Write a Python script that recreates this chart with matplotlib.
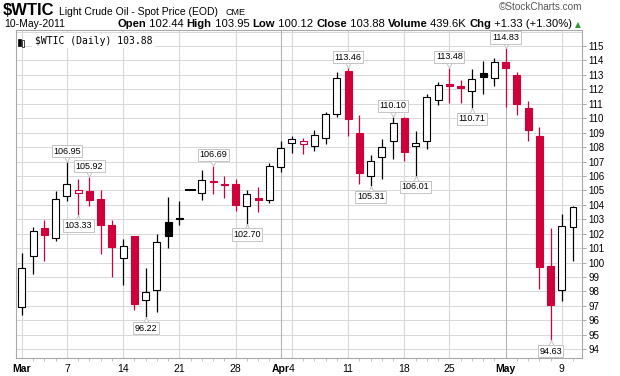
import matplotlib
matplotlib.use("Agg")
import matplotlib.pyplot as plt
from matplotlib.patches import Rectangle
from matplotlib.transforms import offset_copy

# daily OHLC, 1-Mar-2011 .. 10-May-2011
dates = ["Mar 1", "Mar 2", "Mar 3", "Mar 4", "Mar 7", "Mar 8", "Mar 9", "Mar 10", "Mar 11",
         "Mar 14", "Mar 15", "Mar 16", "Mar 17", "Mar 18", "Mar 21", "Mar 22", "Mar 23",
         "Mar 24", "Mar 25", "Mar 28", "Mar 29", "Mar 30", "Mar 31", "Apr 1", "Apr 4",
         "Apr 5", "Apr 6", "Apr 7", "Apr 8", "Apr 11", "Apr 12", "Apr 13", "Apr 14",
         "Apr 15", "Apr 18", "Apr 19", "Apr 20", "Apr 21", "Apr 25", "Apr 26", "Apr 27",
         "Apr 28", "Apr 29", "May 2", "May 3", "May 4", "May 5", "May 6", "May 9", "May 10"]

opens = [96.94, 100.47, 102.40, 101.69, 104.59, 104.82, 104.98, 104.43, 102.63, 100.33,
         101.87, 97.42, 98.12, 102.84, 103.12, 105.00, 104.85, 105.64, 105.46, 105.47,
         103.95, 104.46, 104.30, 106.62, 108.30, 108.24, 108.05, 108.60, 110.30, 113.27,
         108.96, 106.01, 107.30, 108.41, 110.02, 108.06, 108.41, 111.27, 112.35, 112.22,
         111.87, 113.11, 112.76, 113.89, 112.99, 110.71, 108.77, 99.77, 98.08, 102.44]

highs = [100.67, 102.47, 102.98, 104.98, 106.95, 105.79, 105.92, 105.05, 102.98, 101.60,
         101.87, 99.59, 101.99, 104.54, 104.29, 105.00, 106.39, 106.69, 105.98, 105.77,
         105.00, 105.22, 106.88, 108.44, 108.79, 108.60, 109.16, 110.42, 113.18, 113.46,
         110.21, 107.47, 108.57, 110.10, 110.09, 109.12, 111.68, 112.51, 113.48, 112.65,
         113.39, 113.99, 114.17, 114.83, 113.22, 111.22, 109.39, 102.40, 103.37, 103.95]

lows = [96.36, 99.20, 100.10, 101.48, 104.24, 103.33, 103.90, 100.56, 99.00, 98.44,
        96.71, 96.22, 96.57, 101.02, 102.59, 105.00, 104.34, 104.76, 104.48, 103.60,
        102.70, 103.47, 104.16, 106.28, 107.61, 107.52, 107.73, 108.24, 110.07, 108.80,
        105.44, 105.31, 105.78, 107.17, 107.07, 106.01, 107.90, 110.94, 111.04, 111.08,
        110.71, 111.66, 112.21, 110.80, 110.22, 108.42, 98.20, 94.63, 97.35, 100.12]

closes = [99.64, 102.19, 101.90, 104.41, 105.44, 105.03, 104.31, 102.63, 101.11, 101.15,
          97.12, 97.95, 101.43, 101.82, 103.00, 105.00, 105.75, 105.56, 105.40, 104.02,
          104.76, 104.30, 106.71, 107.96, 108.53, 108.40, 108.86, 110.29, 112.76, 109.93,
          106.20, 107.07, 108.04, 109.65, 107.63, 108.25, 111.45, 112.28, 112.25, 112.12,
          112.74, 112.83, 113.87, 113.50, 111.01, 109.21, 99.72, 97.07, 102.55, 103.88]

volume_txt = "439.6K"

# x-axis labels
tick_dates = ["Mar 1", "Mar 7", "Mar 14", "Mar 21", "Mar 28", "Apr 1", "Apr 4",
              "Apr 11", "Apr 18", "Apr 25", "May 2", "May 9"]
tick_labels = ["Mar", "7", "14", "21", "28", "Apr", "4", "11", "18", "25", "May", "9"]
month_dates = ["Apr 1", "May 2"]

# high/low call-outs
hi_marks = ["Mar 7", "Mar 9", "Mar 24", "Apr 11", "Apr 15", "Apr 25", "May 2"]
lo_marks = ["Mar 8", "Mar 16", "Mar 29", "Apr 13", "Apr 19", "Apr 27", "May 6"]

yticks = list(range(94, 116))

RED = "#D0003A"
GRID = "#D8D8D8"
W, H = 620, 376

plt.rcParams["font.family"] = ["Liberation Sans", "DejaVu Sans"]

fig = plt.figure(figsize=(W / 100, H / 100), dpi=100)
ax = fig.add_axes([16 / W, 1 - 358 / H, (582 - 16) / W, (358 - 30) / H])

idx = {d: i for i, d in enumerate(dates)}
bw = 0.62

for i in range(len(dates)):
    o, h, l, c = opens[i], highs[i], lows[i], closes[i]
    prev = closes[i - 1] if i > 0 else o
    col = "black" if c >= prev else RED
    face = "white" if c >= o else col
    ax.plot([i, i], [l, h], color=col, lw=0.9, zorder=2, solid_capstyle="butt")
    if h == l:
        ax.plot([i - 0.38, i + 0.38], [o, o], color=col, lw=1.4, zorder=3)
        continue
    ax.add_patch(Rectangle((i - bw / 2, min(o, c)), bw, abs(c - o),
                           facecolor=face, edgecolor=col, lw=0.8, zorder=3))

# grid
for y in yticks:
    ax.axhline(y, color=GRID, lw=0.7, zorder=0)
ax.axhline(116, color=GRID, lw=0.7, zorder=0)
for d in tick_dates:
    c = "#B4B4B4" if d in month_dates else GRID
    ax.axvline(idx[d], color=c, lw=0.8, zorder=0)

ax.set_xlim(-0.53, 49.8)
ax.set_ylim(93.39, 116.11)

ax.yaxis.tick_right()
ax.set_yticks(yticks)
ax.set_yticklabels([str(y) for y in yticks], fontsize=7)
ax.tick_params(axis="y", length=3, width=0.6, color="#999999", pad=1.5)
ax.set_xticks([idx[d] for d in tick_dates])
ax.set_xticklabels(tick_labels, fontsize=7.5)
for t in ax.get_xticklabels():
    if t.get_text() in ("Mar", "Apr", "May"):
        t.set_fontweight("bold")
ax.set_xticks(range(len(dates)), minor=True)
ax.tick_params(axis="x", which="major", length=0, pad=4)
ax.tick_params(axis="x", which="minor", length=2, width=0.5, color="#AAAAAA")
for s in ax.spines.values():
    s.set_color("#A8A8A8")
    s.set_linewidth(0.8)

# call-out boxes
box = dict(boxstyle="square,pad=0.18", fc="white", ec="#C4C4C4", lw=0.7)
up_tri = offset_copy(ax.transData, fig=fig, x=0, y=-3.0, units="dots")
dn_tri = offset_copy(ax.transData, fig=fig, x=0, y=3.0, units="dots")
for d in hi_marks:
    i = idx[d]
    ax.plot(i, highs[i], marker="v", ms=5, mfc="white", mec="#C4C4C4", mew=0.7,
            transform=dn_tri, zorder=4, clip_on=False)
    ax.annotate(f"{highs[i]:.2f}", (i, highs[i]), xytext=(0, 11), textcoords="offset pixels",
                ha="center", va="center", fontsize=6.5, bbox=box, zorder=5)
for d in lo_marks:
    i = idx[d]
    ax.plot(i, lows[i], marker="^", ms=5, mfc="white", mec="#C4C4C4", mew=0.7,
            transform=up_tri, zorder=4, clip_on=False)
    ax.annotate(f"{lows[i]:.2f}", (i, lows[i]), xytext=(0, -11), textcoords="offset pixels",
                ha="center", va="center", fontsize=6.5, bbox=box, zorder=5)

# legend inside plot
ax.text(0.033, 0.982, f"$WTIC (Daily) {closes[-1]:.2f}", transform=ax.transAxes,
        fontsize=7, family="DejaVu Sans Mono", va="top", ha="left", zorder=6,
        bbox=dict(boxstyle="square,pad=0.25", fc="white", ec="none"))
ax.add_patch(Rectangle((0.004, 0.952), 0.004, 0.022, transform=ax.transAxes,
                       fc="black", ec="black", lw=0.5, zorder=7))
ax.add_patch(Rectangle((0.011, 0.948), 0.004, 0.022, transform=ax.transAxes,
                       fc="white", ec="black", lw=0.5, zorder=7))

# header
def fx(px):
    return px / W


def fy(py):
    return 1 - py / H


fig.text(fx(3), fy(15), "$WTIC", fontsize=12, fontweight="bold", va="baseline")
fig.text(fx(59), fy(15), "Light Crude Oil - Spot Price (EOD)", fontsize=7.5, va="baseline")
fig.text(fx(226), fy(15), "CME", fontsize=6.5, va="baseline")
fig.text(fx(582), fy(10), "\u00a9StockCharts.com", fontsize=7.2, color="#555555",
         ha="right", va="baseline")
fig.text(fx(4), fy(27), "10-May-2011", fontsize=7.5, va="baseline")

chg = closes[-1] - closes[-2]
parts = [("Open", True), (f" {opens[-1]:.2f} ", False), ("High", True),
         (f" {highs[-1]:.2f} ", False), ("Low", True), (f" {lows[-1]:.2f} ", False),
         ("Close", True), (f" {closes[-1]:.2f} ", False), ("Volume", True),
         (f" {volume_txt} ", False), ("Chg", True),
         (f" +{chg:.2f} (+{chg / closes[-2] * 100:.2f}%) ", False)]
renderer = fig.canvas.get_renderer()
x = 117
for txt, bold in parts:
    t = fig.text(fx(x), fy(27), txt, fontsize=8.1, va="baseline",
                 fontweight="bold" if bold else "normal")
    x += t.get_window_extent(renderer).width
fig.text(fx(x), fy(27), "\u25b2", fontsize=5.5, color="#2E9B2E", va="baseline",
         family="DejaVu Sans")

fig.savefig("out.png", dpi=100)
